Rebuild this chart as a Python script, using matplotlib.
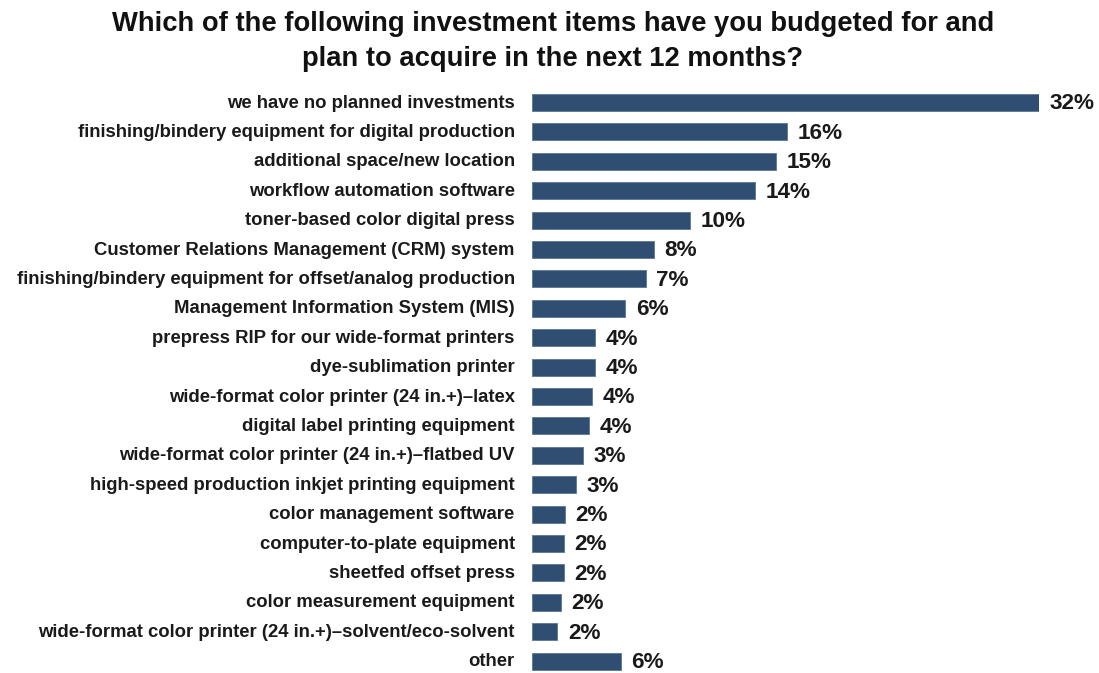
import matplotlib.pyplot as plt

# Itens de investimento e percentuais
itens = [
    "we have no planned investments",
    "finishing/bindery equipment for digital production",
    "additional space/new location",
    "workflow automation software",
    "toner-based color digital press",
    "Customer Relations Management (CRM) system",
    "finishing/bindery equipment for offset/analog production",
    "Management Information System (MIS)",
    "prepress RIP for our wide-format printers",
    "dye-sublimation printer",
    "wide-format color printer (24 in.+)\u2013latex",
    "digital label printing equipment",
    "wide-format color printer (24 in.+)\u2013flatbed UV",
    "high-speed production inkjet printing equipment",
    "color management software",
    "computer-to-plate equipment",
    "sheetfed offset press",
    "color measurement equipment",
    "wide-format color printer (24 in.+)\u2013solvent/eco-solvent",
    "other",
]
percentuais = [32.0, 16.1, 15.4, 14.1, 10.0, 7.7, 7.2, 5.9, 4.0, 4.0,
               3.8, 3.6, 3.2, 2.8, 2.1, 2.0, 2.0, 1.8, 1.6, 5.6]

plt.rcParams['font.family'] = ['Liberation Sans', 'DejaVu Sans']

fig = plt.figure(figsize=(10.99, 6.73), dpi=100)
ax = fig.add_axes([532 / 1099, 0.0003, (1039 - 532) / 1099, 588 / 673])

pos = list(range(len(itens)))
ax.barh(pos, percentuais, height=0.58, color='#2F4E71', edgecolor='#5A7696', linewidth=0.6)

ax.set_xlim(0, 32)
ax.set_ylim(19.4, -0.6)
ax.axis('off')

# Rótulos das categorias e valores
for y, nome, v in zip(pos, itens, percentuais):
    ax.annotate(nome, (0, y), xytext=(-12.5, -0.5), textcoords='offset points',
                ha='right', va='center', fontsize=13.3, fontweight='bold',
                color='#1a1a1a', annotation_clip=False)
    ax.annotate(f"{round(v)}%", (v, y), xytext=(7.5, -1), textcoords='offset points',
                ha='left', va='center', fontsize=16.2, fontweight='bold',
                color='#1a1a1a', annotation_clip=False)

fig.text(0.503, 0.983, "Which of the following investment items have you budgeted for and\nplan to acquire in the next 12 months?",
         ha='center', va='top', fontsize=19.7, fontweight='bold', linespacing=1.42, color='#111111')

fig.savefig("out.png", dpi=100)
